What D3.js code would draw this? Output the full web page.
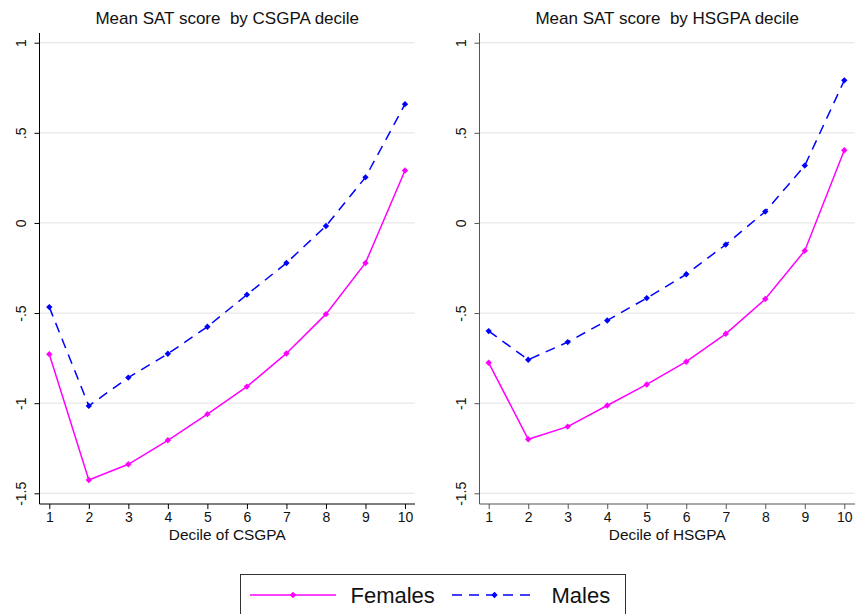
<!DOCTYPE html>
<html><head><meta charset="utf-8">
<script src="https://cdn.jsdelivr.net/npm/d3@7"></script>
<style>body{margin:0;background:#fff}svg{display:block;font-family:"Liberation Sans",Arial,sans-serif}text{white-space:pre}</style>
</head><body><svg id="c" width="856" height="614"></svg>
<script>
const deciles = [1,2,3,4,5,6,7,8,9,10];
const yTicks = [1, 0.5, 0, -0.5, -1, -1.5];
const yTickLabels = ["1", ".5", "0", "-.5", "-1", "-1.5"];
const titles = ["Mean SAT score  by CSGPA decile", "Mean SAT score  by HSGPA decile"];
const xTitles = ["Decile of CSGPA", "Decile of HSGPA"];
const femalesCS = [-0.728, -1.426, -1.339, -1.206, -1.061, -0.908, -0.724, -0.506, -0.222, 0.291];
const malesCS   = [-0.467, -1.015, -0.858, -0.726, -0.576, -0.398, -0.222, -0.017, 0.253, 0.659];
const femalesHS = [-0.776, -1.200, -1.130, -1.013, -0.896, -0.770, -0.615, -0.422, -0.154, 0.403];
const malesHS   = [-0.600, -0.759, -0.661, -0.541, -0.417, -0.285, -0.120, 0.063, 0.318, 0.791];
const seriesNames = ["Females", "Males"];

const FONT = '"Liberation Sans", Arial, sans-serif';
const svg = d3.select("#c");
const panels = [
  {axisX: 39.5, x1: 49.3, x10: 405, right: 415, axisColor: "#000", f: femalesCS, m: malesCS, title: titles[0], xt: xTitles[0]},
  {axisX: 479.5, x1: 488.7, x10: 844.3, right: 855, axisColor: "#555", f: femalesHS, m: malesHS, title: titles[1], xt: xTitles[1]}
];
const y = d3.scaleLinear().domain([-1.5, 1]).range([493.3, 42.7]);
const colors = {Females: "#ff00ff", Males: "#0000ff"};
const dash = {Females: null, Males: "10,7"};
const diamond = d3.symbol().type(d3.symbolDiamond2).size(26);

panels.forEach(p => {
  const x = d3.scaleLinear().domain([1, 10]).range([p.x1, p.x10]);
  const g = svg.append("g");
  g.selectAll("line.grid").data(yTicks).join("line")
    .attr("x1", p.axisX).attr("x2", p.right)
    .attr("y1", d => y(d)).attr("y2", d => y(d))
    .attr("stroke", "#e8e8e8").attr("stroke-width", 1.3);
  const ya = g.append("g").attr("transform", `translate(${p.axisX},0)`)
    .call(d3.axisLeft(y).tickValues(yTicks).tickSize(5).tickPadding(9)
      .tickFormat((d, i) => yTickLabels[i]));
  ya.attr("font-family", FONT);
  ya.select(".domain").attr("d", `M0,33V504`).attr("stroke", p.axisColor);
  ya.selectAll(".tick line").attr("stroke", p.axisColor);
  ya.selectAll(".tick text").attr("font-size", 14).attr("fill", "#111")
    .attr("text-anchor", "middle").attr("dy", null)
    .attr("transform", "translate(-14,0) rotate(-90)").attr("x", 0).attr("y", 0);
  const xa = g.append("g").attr("transform", `translate(0,504)`)
    .call(d3.axisBottom(x).tickValues(deciles).tickSize(5).tickPadding(3).tickFormat(d3.format("d")));
  xa.attr("font-family", FONT);
  xa.select(".domain").attr("d", `M${p.axisX},0H${p.right}`).attr("stroke", p.axisColor);
  xa.selectAll(".tick line").attr("stroke", p.axisColor);
  xa.selectAll(".tick text").attr("font-size", 14).attr("fill", "#111");
  g.append("text").attr("x", (p.axisX + p.right) / 2).attr("y", 24)
    .attr("text-anchor", "middle").attr("font-size", 17).attr("fill", "#111").text(p.title);
  g.append("text").attr("x", (p.axisX + p.right) / 2).attr("y", 540)
    .attr("text-anchor", "middle").attr("font-size", 15.4).attr("fill", "#111").text(p.xt);
  [["Females", p.f], ["Males", p.m]].forEach(([name, vals]) => {
    const line = d3.line().x((d, i) => x(deciles[i])).y(d => y(d));
    g.append("path").attr("d", line(vals)).attr("fill", "none")
      .attr("stroke", colors[name]).attr("stroke-width", 1.5)
      .attr("stroke-dasharray", dash[name]);
    g.selectAll(null).data(vals).join("path")
      .attr("d", diamond).attr("fill", colors[name])
      .attr("transform", (d, i) => `translate(${x(deciles[i])},${y(d)})`);
  });
});

const lg = svg.append("g");
lg.append("rect").attr("x", 240.5).attr("y", 574.5).attr("width", 385).attr("height", 60)
  .attr("fill", "#fff").attr("stroke", "#333").attr("stroke-width", 1);
const legendItems = [
  {name: seriesNames[0], x0: 250, x1: 336, tx: 350.5},
  {name: seriesNames[1], x0: 452, x1: 537, tx: 551.5}
];
legendItems.forEach(it => {
  lg.append("line").attr("x1", it.x0).attr("x2", it.x1).attr("y1", 595).attr("y2", 595)
    .attr("stroke", colors[it.name]).attr("stroke-width", 1.5)
    .attr("stroke-dasharray", dash[it.name]);
  lg.append("path").attr("d", diamond).attr("fill", colors[it.name])
    .attr("transform", `translate(${(it.x0 + it.x1) / 2},595)`);
  lg.append("text").attr("x", it.tx).attr("y", 603).attr("font-size", 22).attr("fill", "#111").text(it.name);
});
</script></body></html>
